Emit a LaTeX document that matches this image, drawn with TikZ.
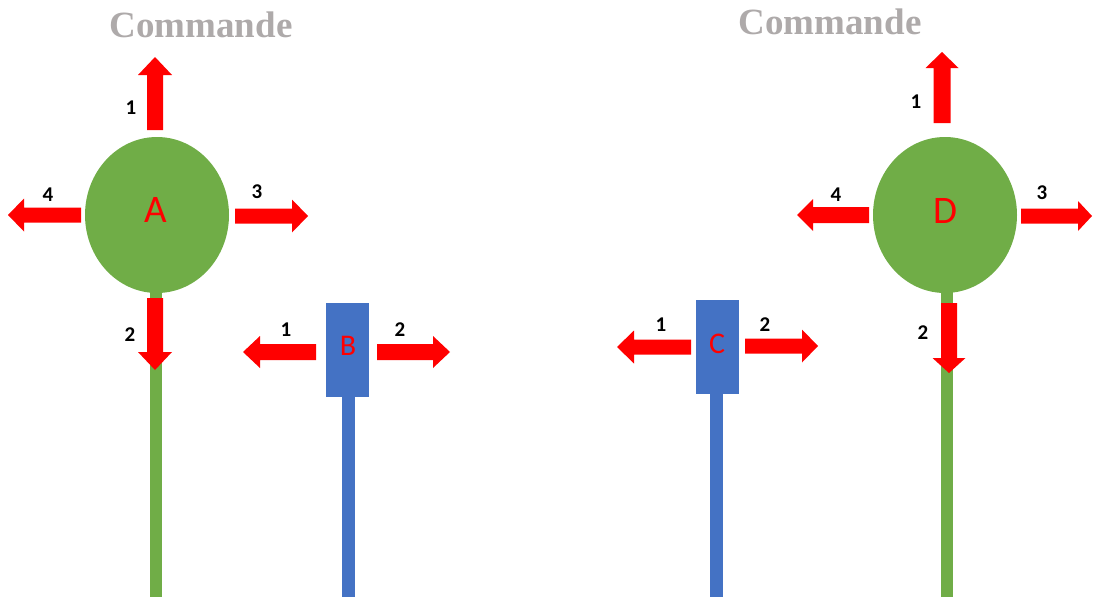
\documentclass[tikz,border=0pt]{standalone}
\usepackage{fontspec}
\setmainfont{Liberation Serif}
\newfontfamily\calib{Carlito}
\usetikzlibrary{shapes.geometric}
\definecolor{vgreen}{HTML}{70AD47}
\definecolor{vblue}{HTML}{4472C4}
\definecolor{vred}{HTML}{FF0000}
\definecolor{vgray}{HTML}{AEAAAA}
\tikzset{
  arrowred/.style={fill=vred},
  bubble/.style={ellipse, fill=vgreen, minimum width=144pt, minimum height=156pt, inner sep=0pt},
  box/.style={rectangle, fill=vblue, minimum width=43pt, minimum height=94pt, inner sep=0pt},
  bigletter/.style={text=vred, inner sep=0pt, font=\calib\fontsize{39}{41}\selectfont},
  smallletter/.style={text=vred, inner sep=0pt, font=\calib\fontsize{30}{32}\selectfont},
  num/.style={font=\calib\bfseries\fontsize{21}{23}\selectfont, text=black, inner sep=0pt},
  title/.style={font=\bfseries\fontsize{37}{40}\selectfont, text=vgray, inner sep=0pt},
}
% horizontal block arrow: tailx basex tipx ycenter shafthalf headhalf
\newcommand{\harr}[6]{\fill[arrowred] (#1,#4-#5) -- (#2,#4-#5) -- (#2,#4-#6) -- (#3,#4) -- (#2,#4+#6) -- (#2,#4+#5) -- (#1,#4+#5) -- cycle;}
% vertical block arrow: taily basey tipy xcenter shafthalf headhalf
\newcommand{\varr}[6]{\fill[arrowred] (#4-#5,#1) -- (#4-#5,#2) -- (#4-#6,#2) -- (#4,#3) -- (#4+#6,#2) -- (#4+#5,#2) -- (#4+#5,#1) -- cycle;}
\begin{document}
\begin{tikzpicture}[x=1pt,y=-1pt]
\useasboundingbox (0,0) rectangle (1093,597);
% titles
\node[title] (t1) at (201,25) {Commande};
\node[title] (t2) at (830,22) {Commande};
% A
\fill[vgreen] (150,285) rectangle (162,597);
\node[bubble] (A) at (157,215) {};
\node[bigletter] (Al) at (156,210) {A};
\varr{130}{75}{57}{155}{8}{17}
\varr{298}{352}{370}{155}{8}{17}
\harr{235}{292}{308}{216}{7.5}{16.5}
\harr{81}{24}{8}{215}{7.5}{16.5}
\node[num] (a1) at (131,108) {1};
\node[num] (a2) at (130,335) {2};
\node[num] (a3) at (257,192) {3};
\node[num] (a4) at (48,195) {4};
% B
\fill[vblue] (342,390) rectangle (355,597);
\node[box] (B) at (347.5,350) {};
\node[smallletter] (Bl) at (348,346) {B};
\harr{316}{260}{243}{352}{8}{16}
\harr{377}{433}{450}{352}{8}{16}
\node[num] (b1) at (286,330) {1};
\node[num] (b2) at (400,330) {2};
% C
\fill[vblue] (710,390) rectangle (723,597);
\node[box] (C) at (717.5,347) {};
\node[smallletter] (Cl) at (717,344) {C};
\harr{691}{634}{617}{347}{7.5}{16.5}
\harr{745}{802}{818}{346}{7.5}{16.5}
\node[num] (c1) at (661,325) {1};
\node[num] (c2) at (765,325) {2};
% D
\fill[vgreen] (941,285) rectangle (953,597);
\node[bubble] (D) at (945,215) {};
\node[bigletter] (Dl) at (945,211) {D};
\varr{123}{68}{52}{942}{8.5}{16.5}
\varr{303}{358}{373}{949}{8}{16.5}
\harr{1021}{1078}{1092}{216}{7.5}{15}
\harr{869}{813}{797}{215}{8}{16}
\node[num] (d1) at (916,102) {1};
\node[num] (d2) at (923,333) {2};
\node[num] (d3) at (1042,193) {3};
\node[num] (d4) at (836,195) {4};
\end{tikzpicture}
\end{document}
